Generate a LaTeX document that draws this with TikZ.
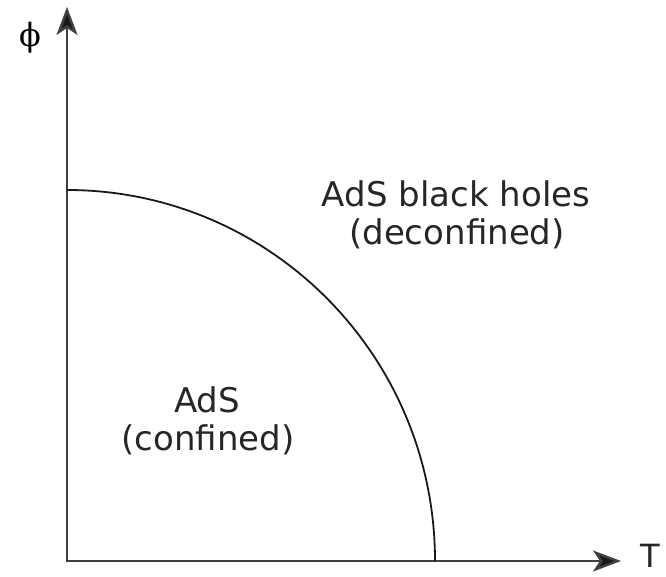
\documentclass[tikz,border=0pt]{standalone}
\usepackage{fontspec}
\setmainfont{DejaVu Sans}
\newfontfamily\phifont{DejaVu Serif}
\usetikzlibrary{arrows.meta}
\tikzset{
  axis/.style={draw=black!75, line width=2.4pt, {Stealth[length=28pt,width=21pt,inset=7pt,fill=black!90]}-{Stealth[length=28pt,width=21pt,inset=7pt,fill=black!90]}},
  boundary/.style={draw=black!90, line width=1.8pt},
  lbl/.style={font=\fontsize{34}{40}\selectfont, text=black!85, anchor=base, inner sep=0pt}
}
\begin{document}
\begin{tikzpicture}[x=1pt,y=1pt]
\useasboundingbox (0,0) rectangle (666,576);
\coordinate (O) at (67,15);
\coordinate (xtip) at (621,15);
\coordinate (ytip) at (67,569);
\coordinate (top) at (67,386);
\draw[axis] (ytip) -- (O) -- (xtip);
\draw[boundary] (top) arc[start angle=90, end angle=0, x radius=368, y radius=371] coordinate (bottom);
\node[lbl] (bh1) at (456,369) {AdS black holes};
\node[lbl] (bh2) at (457,331) {(deconfined)};
\node[lbl] (ads1) at (207,164) {AdS};
\node[lbl] (ads2) at (208,126) {(confined)};
\node[lbl, font=\fontsize{32}{36}\selectfont] (T) at (650,9) {T};
\node[font=\phifont\fontsize{32}{36}\selectfont, inner sep=0pt] (phi) at (30,538) {ϕ};
\end{tikzpicture}
\end{document}
